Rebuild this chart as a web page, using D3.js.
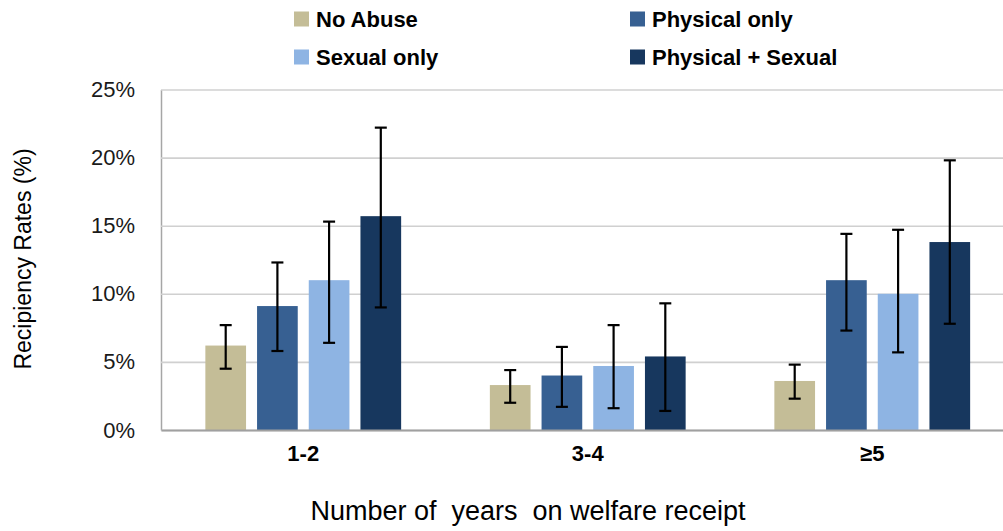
<!DOCTYPE html>
<html>
<head>
<meta charset="utf-8">
<script src="https://cdn.jsdelivr.net/npm/d3@7"></script>
<style>
  html, body { margin: 0; padding: 0; background: #ffffff; }
  svg { display: block; font-family: "Liberation Sans", Arial, sans-serif; }
</style>
</head>
<body>
<svg id="chart" width="1003" height="531"></svg>
<script>
// Years on welfare receipt, recipiency rate (%) by abuse history, with 95% CIs
const categories = ["1-2", "3-4", "\u22655"];
const seriesNames = ["No Abuse", "Physical only", "Sexual only", "Physical + Sexual"];

const noAbuse        = [6.2, 3.3, 3.6];
const physicalOnly   = [9.1, 4.0, 11.0];
const sexualOnly     = [11.0, 4.7, 10.0];
const physicalSexual = [15.7, 5.4, 13.8];

const noAbuseCI        = [[4.5, 7.7], [2.0, 4.4], [2.3, 4.8]];
const physicalOnlyCI   = [[5.8, 12.3], [1.7, 6.1], [7.3, 14.4]];
const sexualOnlyCI     = [[6.4, 15.3], [1.6, 7.7], [5.7, 14.7]];
const physicalSexualCI = [[9.0, 22.2], [1.4, 9.3], [7.8, 19.8]];

const yTicks = [0, 5, 10, 15, 20, 25];
const seriesColors = ["#c4bd97", "#376092", "#8eb4e3", "#17375e"];

const seriesValues = [noAbuse, physicalOnly, sexualOnly, physicalSexual];
const seriesCI = [noAbuseCI, physicalOnlyCI, sexualOnlyCI, physicalSexualCI];

(function draw() {
  const svg = d3.select("#chart");

  // Plot frame
  const plotLeft = 161, plotTop = 89.5, plotBottom = 430, plotRight = 1014.5;

  const x0 = d3.scaleBand().domain(categories).range([plotLeft, plotRight]);
  const x1 = d3.scaleBand().domain(seriesNames).range([0, x0.bandwidth()])
    .paddingInner(0.213).paddingOuter(0.858);
  const y = d3.scaleLinear().domain([0, 25]).range([plotBottom, plotTop]);
  const color = d3.scaleOrdinal().domain(seriesNames).range(seriesColors);

  // Gridlines + y tick labels
  const yAxis = svg.append("g")
    .attr("transform", `translate(${plotLeft},0)`)
    .call(d3.axisLeft(y).tickValues(yTicks).tickFormat(d => d + "%")
      .tickSize(-(plotRight - plotLeft)).tickSizeOuter(0).tickPadding(26));
  yAxis.select(".domain").attr("stroke", "#a6a6a6").attr("stroke-width", 1.5);
  yAxis.selectAll(".tick line").attr("stroke", "#d0d0d0").attr("stroke-width", 1.6);
  yAxis.selectAll(".tick text")
    .attr("font-size", 22).attr("fill", "#1a1a1a")
    .attr("font-family", "'Liberation Sans', Arial, sans-serif");

  // One row per bar
  const rows = [];
  categories.forEach((c, ci) => {
    seriesNames.forEach((s, si) => {
      rows.push({ cat: c, series: s, value: seriesValues[si][ci], lo: seriesCI[si][ci][0], hi: seriesCI[si][ci][1] });
    });
  });
  const cx = d => x0(d.cat) + x1(d.series) + x1.bandwidth() / 2;

  svg.append("g").selectAll("rect").data(rows).join("rect")
    .attr("x", d => x0(d.cat) + x1(d.series))
    .attr("y", d => y(d.value))
    .attr("width", x1.bandwidth())
    .attr("height", d => y(0) - y(d.value))
    .attr("fill", d => color(d.series));

  // Baseline and category labels
  const xAxis = svg.append("g")
    .attr("transform", `translate(0,${plotBottom})`)
    .call(d3.axisBottom(x0).tickSize(0).tickPadding(15));
  xAxis.select(".domain").attr("stroke", "#a0a0a0").attr("stroke-width", 2);
  xAxis.selectAll(".tick text")
    .attr("font-size", 22).attr("font-weight", "bold").attr("fill", "#000")
    .attr("font-family", "'Liberation Sans', Arial, sans-serif");

  // Error bars
  const capHalf = 6;
  const eb = svg.append("g").attr("stroke", "#000").attr("stroke-width", 2.2);
  eb.selectAll("line.stem").data(rows).join("line").attr("class", "stem")
    .attr("x1", cx).attr("x2", cx)
    .attr("y1", d => y(d.lo)).attr("y2", d => y(d.hi));
  eb.selectAll("line.capHi").data(rows).join("line").attr("class", "capHi")
    .attr("x1", d => cx(d) - capHalf).attr("x2", d => cx(d) + capHalf)
    .attr("y1", d => y(d.hi)).attr("y2", d => y(d.hi));
  eb.selectAll("line.capLo").data(rows).join("line").attr("class", "capLo")
    .attr("x1", d => cx(d) - capHalf).attr("x2", d => cx(d) + capHalf)
    .attr("y1", d => y(d.lo)).attr("y2", d => y(d.lo));

  // Axis titles
  svg.append("text")
    .attr("transform", "translate(31,259) rotate(-90)")
    .attr("text-anchor", "middle")
    .attr("font-size", 23).attr("fill", "#000")
    .text("Recipiency Rates (%)");

  svg.append("text")
    .attr("x", 528).attr("y", 520)
    .attr("text-anchor", "middle")
    .attr("font-size", 27).attr("fill", "#000")
    .style("white-space", "pre")
    .text("Number of  years  on welfare receipt");

  // Legend (2 x 2)
  const legendCols = [294, 630];
  const legendRows = [19, 57];
  const legend = svg.append("g").selectAll("g").data(seriesNames).join("g")
    .attr("transform", (d, i) => `translate(${legendCols[i % 2]},${legendRows[Math.floor(i / 2)]})`);
  legend.append("rect")
    .attr("x", 0).attr("y", -7.5).attr("width", 15).attr("height", 15)
    .attr("fill", d => color(d));
  legend.append("text")
    .attr("x", 22).attr("y", 7.5)
    .attr("font-size", 22).attr("font-weight", "bold").attr("fill", "#000")
    .text(d => d);
})();
</script>
</body>
</html>
